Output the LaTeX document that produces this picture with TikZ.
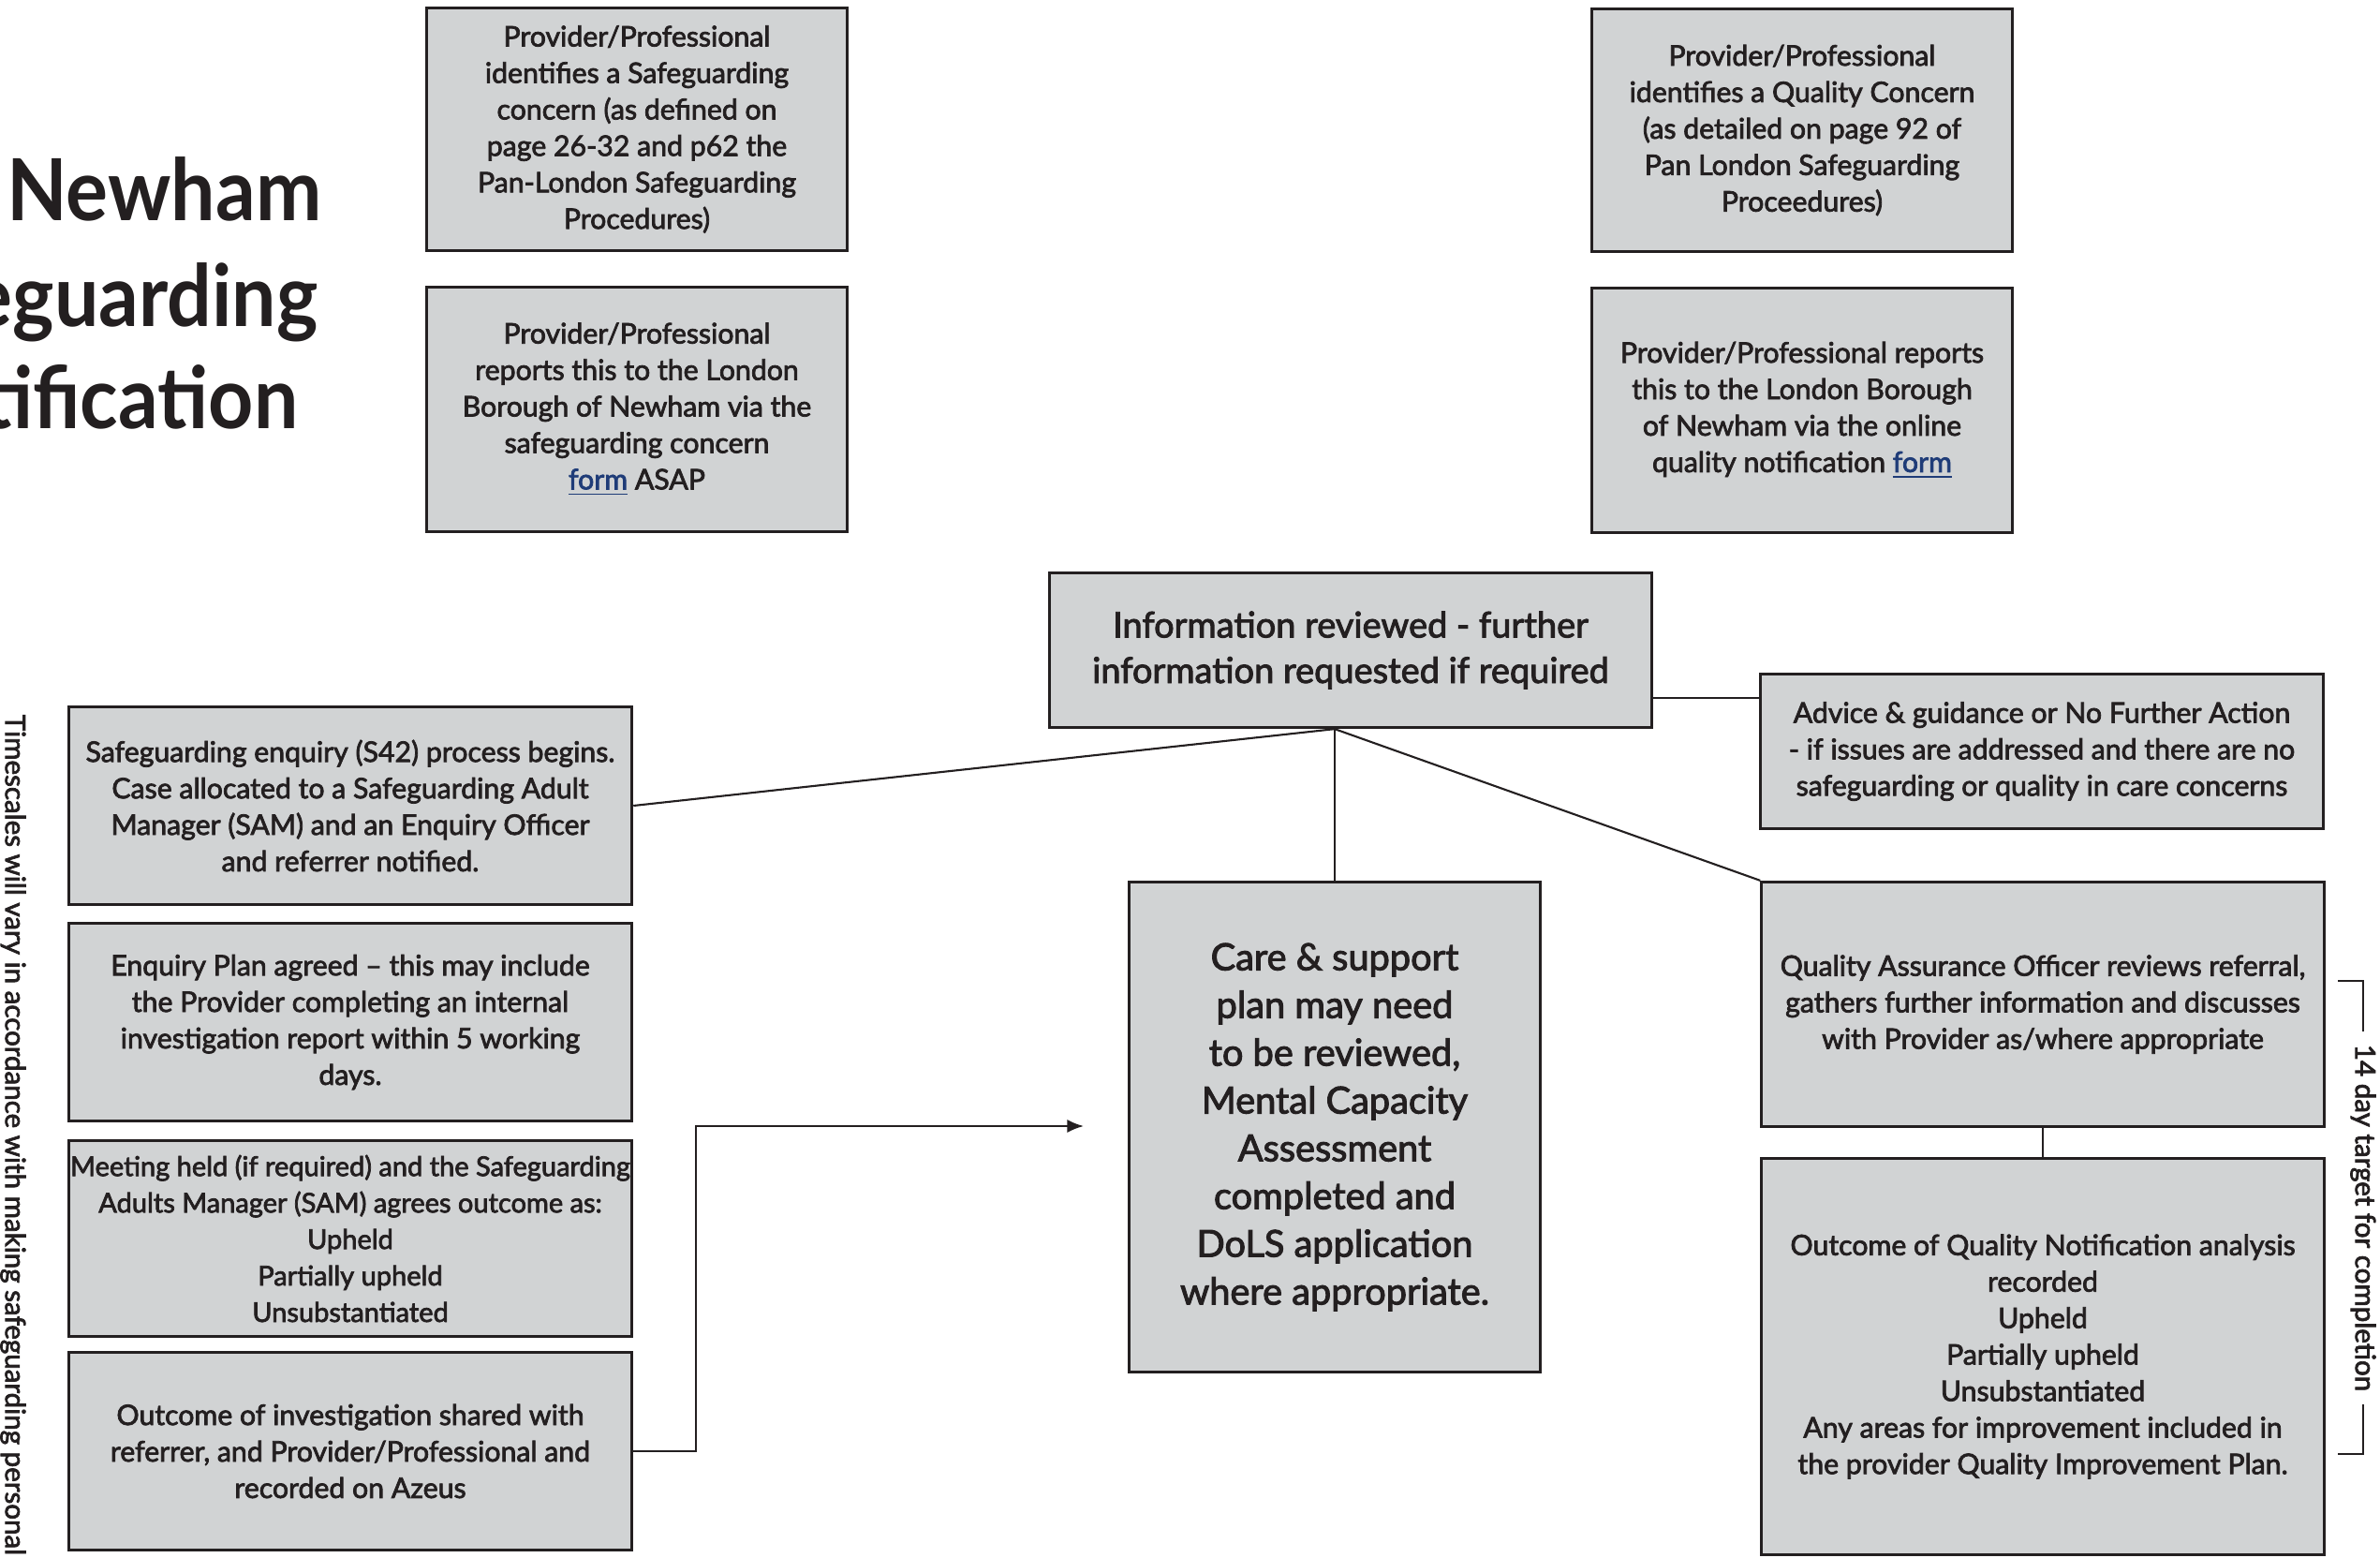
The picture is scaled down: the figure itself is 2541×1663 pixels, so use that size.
\documentclass[tikz,border=0pt]{standalone}
\usepackage{fontspec}
\setmainfont{Lato}[FakeBold=2.5]
\newfontfamily\titlefont{Lato Bold}[FakeStretch=0.92]
\usepackage{xcolor}
\usetikzlibrary{calc,arrows.meta}
\definecolor{ink}{HTML}{231F20}
\definecolor{boxgray}{HTML}{D1D3D4}
\definecolor{linkblue}{HTML}{1F3C78}
\newcommand{\formlink}[1]{\textcolor{linkblue}{\underline{#1}}}
\tikzset{
  box/.style={draw=ink, fill=boxgray, line width=0.9pt, align=center, text=ink, inner sep=1pt, font=\fontsize{8.6}{11.07}\selectfont},
  bigbox/.style={box, font=\fontsize{10.8}{13.8}\selectfont},
  carebox/.style={box, font=\fontsize{11.3}{14.5}\selectfont},
  link/.style={draw=ink, line width=0.6pt},
  arr/.style={link, -{Latex[length=5pt,width=4pt]}},
  lab/.style={text=ink, inner sep=0pt, font=\fontsize{8.4}{11}\selectfont},
  ttl/.style={text=ink, inner sep=0pt, anchor=base east, font=\fontsize{26}{31.6}\titlefont},
}

\begin{document}
\begin{tikzpicture}[x=0.01cm, y=-0.01cm]
  \useasboundingbox (0,0) rectangle (2541,1663);
  \clip (0,0) rectangle (2541,1663);

  \node[ttl] (title-a) at (344,235) {Newham};
  \node[ttl] (title-b) at (340,348) {Safeguarding};
  \node[ttl] (title-c) at (319,457) {Notification};
  \node[lab, rotate=-90, anchor=west] (timescales) at (14,762) {Timescales will vary in accordance with making safeguarding personal};

  \node[box, minimum width=4.49cm, minimum height=2.59cm] (sg-id) at (680,138) {Provider/Professional\\identifies a Safeguarding\\concern (as defined on\\page 26-32 and p62 the\\Pan-London Safeguarding\\Procedures)};
  \node[box, minimum width=4.49cm, minimum height=2.61cm] (sg-rep) at (680,437) {Provider/Professional\\reports this to the London\\Borough of Newham via the\\safeguarding concern\\\formlink{form} ASAP};
  \node[box, minimum width=4.49cm, minimum height=2.59cm] (q-id) at (1924,139) {Provider/Professional\\identifies a Quality Concern\\(as detailed on page 92 of\\Pan London Safeguarding\\Proceedures)};
  \node[box, minimum width=4.49cm, minimum height=2.61cm] (q-rep) at (1924,438) {Provider/Professional reports\\this to the London Borough\\of Newham via the online\\quality notification \formlink{form}};

  \node[bigbox, minimum width=6.42cm, minimum height=1.65cm] (info) at (1442,694) {Information reviewed - further\\information requested if required};
  \node[box, minimum width=6.01cm, minimum height=1.65cm] (advice) at (2180,802) {Advice \& guidance or No Further Action\\- if issues are addressed and there are no\\safeguarding or quality in care concerns};

  \node[box, minimum width=6.01cm, minimum height=2.11cm] (sg-a) at (374,860) {Safeguarding enquiry (S42) process begins.\\Case allocated to a Safeguarding Adult\\Manager (SAM) and an Enquiry Officer\\and referrer notified.};
  \node[box, minimum width=6.01cm, minimum height=2.11cm] (sg-b) at (374,1091) {Enquiry Plan agreed -- this may include\\the Provider completing an internal\\investigation report within 5 working\\days.};
  \node[box, minimum width=6.01cm, minimum height=2.09cm, font=\fontsize{8.25}{11.07}\selectfont, inner sep=0pt] (sg-c) at (374,1322) {Meeting held (if required) and the Safeguarding\\Adults Manager (SAM) agrees outcome as:\\Upheld\\Partially upheld\\Unsubstantiated};
  \node[box, minimum width=6.01cm, minimum height=2.11cm] (sg-d) at (374,1549) {Outcome of investigation shared with\\referrer, and Provider/Professional and\\recorded on Azeus};

  \node[carebox, minimum width=4.39cm, minimum height=5.23cm] (care) at (1425,1203) {Care \& support\\plan may need\\to be reviewed,\\Mental Capacity\\Assessment\\completed and\\DoLS application\\where appropriate.};

  \node[box, minimum width=6.00cm, minimum height=2.61cm] (qa) at (2181,1072) {Quality Assurance Officer reviews referral,\\gathers further information and discusses\\with Provider as/where appropriate};
  \node[box, minimum width=6.00cm, minimum height=4.23cm] (q-out) at (2181,1448) {Outcome of Quality Notification analysis\\recorded\\Upheld\\Partially upheld\\Unsubstantiated\\Any areas for improvement included in\\the provider Quality Improvement Plan.};

  \coordinate (hub) at (info.south -| care.north);
  \coordinate (adv-in) at ($(advice.north west)+(0,27)$);
  \coordinate (arr-end) at (1157,1202);
  \draw[link] (hub) -- (sg-a.east);
  \draw[link] (hub) -- (care.north);
  \draw[link] (hub) -- (qa.north west);
  \draw[link] (info.east |- adv-in) -- (adv-in);
  \draw[link] (qa.south) -- (q-out.north);
  \draw[arr] (sg-d.east) -- ++(67,0) |- (arr-end);

  \coordinate (tg-top) at (2496,1047);
  \coordinate (tg-bot) at (2496,1552);
  \draw[link] (tg-top) -- ++(27,0) |- (tg-bot);
  \node[lab, rotate=-90, fill=white, inner sep=4pt] (target) at (2523,1300) {14 day target for completion};
\end{tikzpicture}
\end{document}
